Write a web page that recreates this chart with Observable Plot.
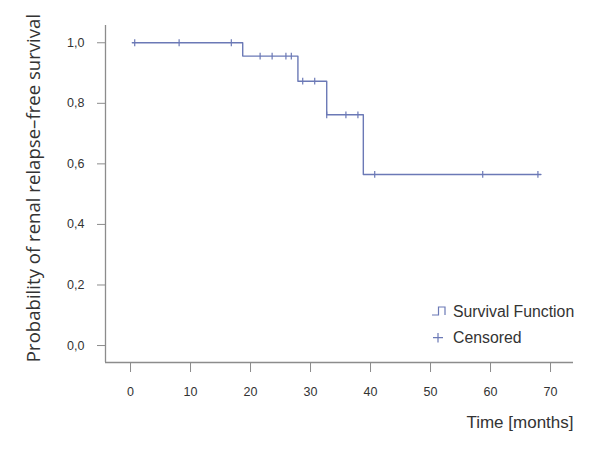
<!DOCTYPE html>
<html><head><meta charset="utf-8">
<script src="https://cdn.jsdelivr.net/npm/d3@7"></script>
<script src="https://cdn.jsdelivr.net/npm/@observablehq/plot@0.6"></script>
<style>
body{margin:0;background:#fff;}
#wrap{position:relative;width:600px;height:452px;}
#wrap svg text{fill:#333;}
#legend{position:absolute;left:430px;top:300px;font-family:"Liberation Sans",Arial,sans-serif;font-size:15.8px;color:#333;}
#legend div{position:absolute;white-space:nowrap;line-height:18px;}
</style></head><body><div id="wrap"></div>
<script>
// Kaplan–Meier step function (time in months, survival probability)
const stepTimes    = [0.3, 18.7, 27.9, 32.7, 38.8, 68.4];
const stepSurvival = [1.0, 0.956, 0.873, 0.762, 0.565, 0.565];
// Censored observations
const censorTimes    = [0.7, 8.1, 16.8, 21.6, 23.6, 25.9, 26.8, 28.7, 30.7, 32.7, 35.9, 37.9, 40.7, 58.7, 67.9];
const censorSurvival = [1.0, 1.0, 1.0, 0.956, 0.956, 0.956, 0.956, 0.873, 0.873, 0.762, 0.762, 0.762, 0.565, 0.565, 0.565];
// Axes
const xTicks = [0, 10, 20, 30, 40, 50, 60, 70];
const yTicks = [0, 0.2, 0.4, 0.6, 0.8, 1.0];
const xLabel = "Time [months]";
const yLabel = "Probability of renal relapse\u2013free survival";
const legendLabels = ["Survival Function", "Censored"];

const lineColor = "#6b79b6";
const axisColor = "#8c8c8c";

const steps = stepTimes.map((t, i) => ({t, s: stepSurvival[i]}));
const censored = censorTimes.map((t, i) => ({t, s: censorSurvival[i]}));
const xDomain = [-4.17, 73.83];
const yDomain = [-0.056, 1.057];

const vbar = {draw(ctx, size) { const h = Math.sqrt(size / Math.PI); ctx.moveTo(0, -h); ctx.lineTo(0, h); }};

const chart = Plot.plot({
  width: 600, height: 452,
  marginLeft: 105, marginRight: 27, marginTop: 25, marginBottom: 90,
  style: {fontFamily: "'Liberation Sans', Arial, sans-serif", fontSize: "12.5px", color: axisColor, background: "#fff"},
  x: {domain: xDomain, ticks: xTicks, tickSize: 10, tickPadding: 15, label: null, tickFormat: d => String(d)},
  y: {domain: yDomain, ticks: yTicks, tickSize: 8, tickPadding: 13, label: null, tickFormat: d => d.toFixed(1).replace(".", ",")},
  marks: [
    Plot.ruleX([xDomain[0]], {stroke: axisColor, strokeWidth: 1.3}),
    Plot.ruleY([yDomain[0]], {stroke: axisColor, strokeWidth: 1.3}),
    Plot.line(steps, {x: "t", y: "s", curve: "step-after", stroke: lineColor, strokeWidth: 1.4}),
    Plot.dot(censored, {x: "t", y: "s", symbol: vbar, r: 3.4, stroke: lineColor, fill: "none", strokeWidth: 1.2}),
    Plot.text([xLabel], {frameAnchor: "bottom-right", textAnchor: "end", dy: 65, fontSize: 17, fontFamily: "'Liberation Sans', Arial, sans-serif"}),
    Plot.text([yLabel], {frameAnchor: "left", textAnchor: "middle", rotate: -90, dx: -71, dy: -6, fontSize: 18.6, fontFamily: "'Open Sans', sans-serif"})
  ]
});
const wrap = document.getElementById("wrap");
wrap.appendChild(chart);

const legend = document.createElement("div");
legend.id = "legend";
legend.innerHTML = `
<svg width="20" height="50" style="position:absolute;left:0;top:0;overflow:visible">
  <path d="M2,15 H8.5 V7 H15 V15" fill="none" stroke="${lineColor}" stroke-width="1.2"/>
  <path d="M3,37.7 H13 M8,33 V42.5" fill="none" stroke="${lineColor}" stroke-width="1.2"/>
</svg>
<div style="left:23px;top:2.5px">${legendLabels[0]}</div>
<div style="left:23px;top:28.5px">${legendLabels[1]}</div>`;
wrap.appendChild(legend);
</script>
</body></html>
